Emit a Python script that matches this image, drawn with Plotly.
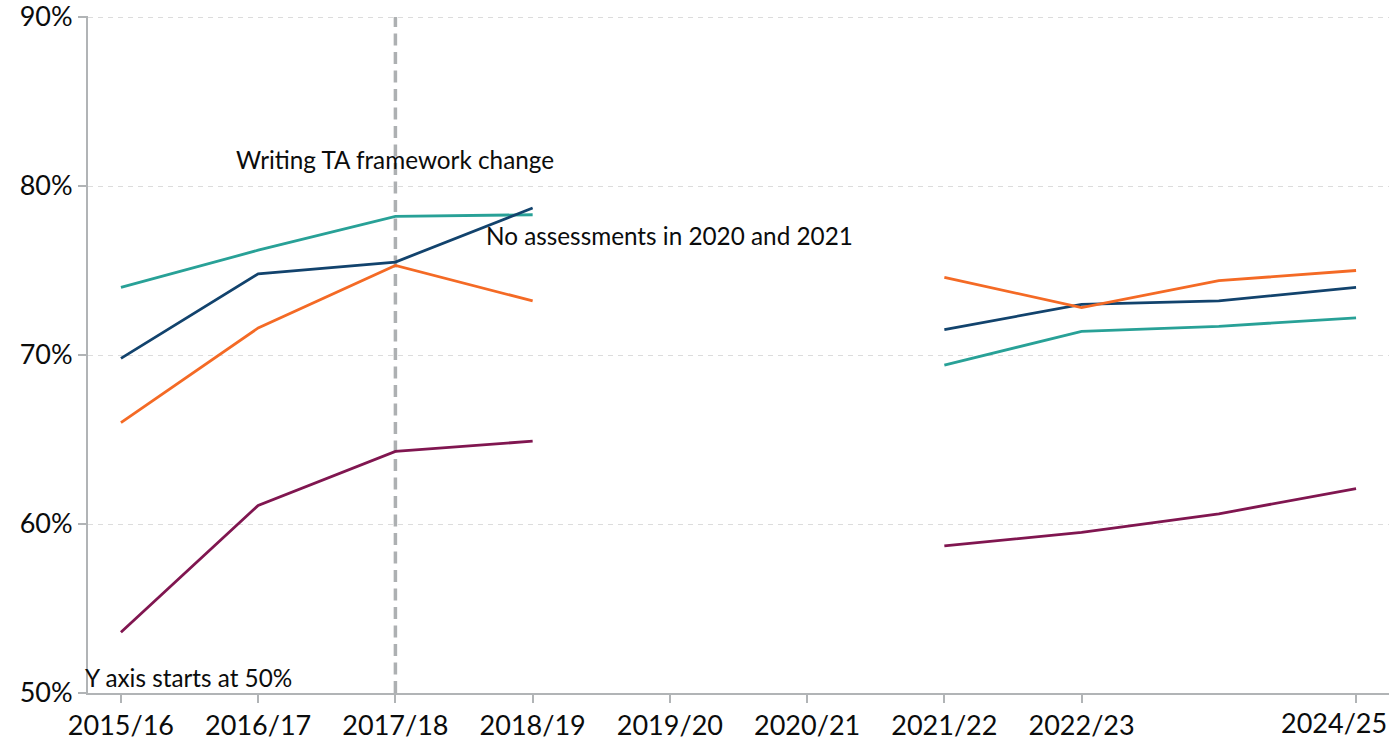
import plotly.graph_objects as go

years = ["2015/16", "2016/17", "2017/18", "2018/19", "2019/20", "2020/21",
         "2021/22", "2022/23", "2023/24", "2024/25"]
tick_years = ["2015/16", "2016/17", "2017/18", "2018/19", "2019/20", "2020/21",
              "2021/22", "2022/23", "2024/25"]
tick_labels = ["2015/16", "2016/17", "2017/18", "2018/19", "2019/20", "2020/21",
               "2021/22", "2022/23", ""]
last_label = "2024/25"
y_ticks = [50, 60, 70, 80, 90]
y_tick_labels = ["50%", "60%", "70%", "80%", "90%"]

teal = [74.0, 76.2, 78.2, 78.3, None, None, 69.4, 71.4, 71.7, 72.2]
navy = [69.8, 74.8, 75.5, 78.7, None, None, 71.5, 73.0, 73.2, 74.0]
orange = [66.0, 71.6, 75.3, 73.2, None, None, 74.6, 72.8, 74.4, 75.0]
purple = [53.6, 61.1, 64.3, 64.9, None, None, 58.7, 59.5, 60.6, 62.1]

series = [
    ("Teal", teal, "#28A197"),
    ("Navy", navy, "#12436D"),
    ("Orange", orange, "#F46A25"),
    ("Purple", purple, "#801650"),
]

framework_year = "2017/18"
y_range = [50, 90.06]

fig = go.Figure()

fig.add_trace(go.Scatter(
    x=[framework_year, framework_year], y=[50, 90], mode="lines",
    line=dict(color="#adb0b2", width=3.5, dash="12px,6.5px"),
    hoverinfo="skip", showlegend=False))

for name, vals, col in series:
    fig.add_trace(go.Scatter(
        x=years, y=vals, mode="lines", name=name,
        line=dict(color=col, width=2.8), connectgaps=False, showlegend=False))

font_family = "Lato"
text_col = "#0b0c0c"
tick_size = 27
ann_size = 24.3

fig.update_layout(
    width=1393, height=747,
    margin=dict(l=88, r=4, t=16, b=54, autoexpand=False),
    paper_bgcolor="white", plot_bgcolor="white",
    font=dict(family=font_family, color=text_col),
    showlegend=False,
    xaxis=dict(
        type="category", categoryorder="array", categoryarray=years,
        range=[-0.24, 9.24], automargin=False,
        tickmode="array", tickvals=tick_years, ticktext=tick_labels,
        showgrid=False, zeroline=False,
        showline=True, linecolor="#b1b4b6", linewidth=2,
        ticks="outside", ticklen=8, tickcolor="#b1b4b6", tickwidth=2,
        tickfont=dict(size=tick_size, color=text_col, family=font_family),
    ),
    yaxis=dict(
        range=y_range, automargin=False, ticklabeloverflow="allow",
        tickmode="array", tickvals=y_ticks, ticktext=y_tick_labels,
        showgrid=True, gridcolor="#dcdcdc", gridwidth=1.3, griddash="5px,5px",
        zeroline=False,
        showline=True, linecolor="#b1b4b6", linewidth=2,
        ticks="outside", ticklen=8, tickcolor="#b1b4b6", tickwidth=2,
        tickfont=dict(size=tick_size, color=text_col, family=font_family),
    ),
    annotations=[
        dict(text="Writing TA framework change", x=framework_year, y=81.55,
             xref="x", yref="y", showarrow=False, xanchor="center", yanchor="middle",
             font=dict(size=ann_size, color=text_col, family=font_family)),
        dict(text="No assessments in 2020 and 2021", x="2019/20", y=77.1,
             xref="x", yref="y", showarrow=False, xanchor="center", yanchor="middle",
             font=dict(size=ann_size, color=text_col, family=font_family)),
        dict(text="Y axis starts at 50%", x=-0.004, y=50.9,
             xref="paper", yref="y", showarrow=False, xanchor="left", yanchor="middle",
             font=dict(size=ann_size, color=text_col, family=font_family)),
        dict(text=last_label, x=1.0, y=0, xref="paper", yref="paper",
             xanchor="right", yanchor="top", yshift=-11, showarrow=False,
             font=dict(size=tick_size, color=text_col, family=font_family)),
    ],
)

fig.write_html("out.html", config={"displayModeBar": False},
               post_script="document.body.style.margin='0px';")
